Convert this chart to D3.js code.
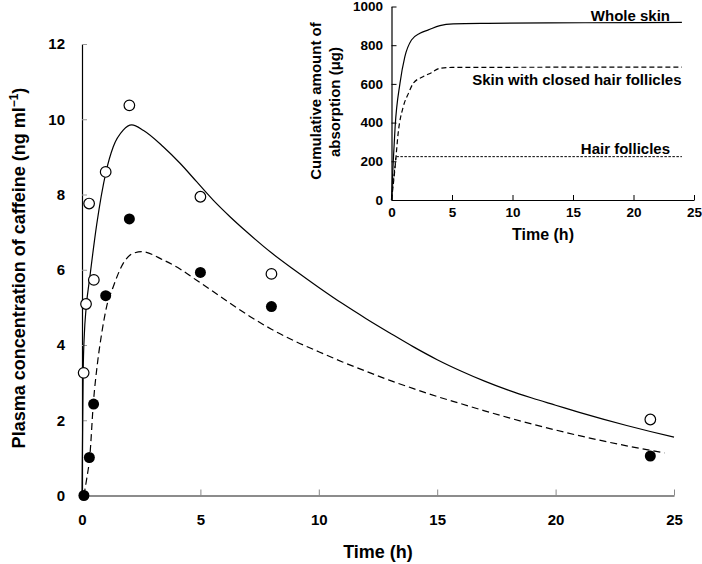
<!DOCTYPE html>
<html><head><meta charset="utf-8">
<script src="https://cdn.jsdelivr.net/npm/d3@7"></script>
<style>
body{margin:0;background:#fff;}
svg{display:block;}
text{font-family:"Liberation Sans",Arial,sans-serif;font-weight:bold;fill:#000;}
</style></head>
<body>
<svg id="c" width="702" height="564"></svg>
<script>
// ---- Main panel data (plasma caffeine, ng/ml) ----
const mainXTicks = [0, 5, 10, 15, 20, 25];
const mainYTicks = [0, 2, 4, 6, 8, 10, 12];
// observed: whole skin (open circles)
const wholeTimes = [0.07, 0.17, 0.3, 0.5, 1, 2, 5, 8, 24];
const wholeConc  = [3.26, 5.09, 7.76, 5.73, 8.6, 10.37, 7.94, 5.89, 2.02];
// observed: closed hair follicles (filled circles)
const closedTimes = [0.08, 0.31, 0.49, 1, 2, 5, 8, 24];
const closedConc  = [0, 1.01, 2.43, 5.31, 7.35, 5.93, 5.02, 1.05];
// fitted curve: whole skin (solid)
const fitWholeT = [0, 0.05, 0.1, 0.17, 0.34, 0.62, 1.01, 1.32, 1.74, 2.1, 2.6, 3.43, 4.14, 4.84, 5.54, 6.25, 6.95, 8, 9, 10, 11, 12, 13, 14, 15, 16, 17, 18, 19, 20, 21, 22, 23, 24, 25];
const fitWholeC = [0, 3.3, 4.3, 4.95, 5.85, 7.2, 8.59, 9.27, 9.71, 9.85, 9.7, 9.27, 8.83, 8.34, 7.85, 7.41, 7.01, 6.45, 5.98, 5.53, 5.10, 4.70, 4.32, 3.95, 3.61, 3.31, 3.04, 2.80, 2.59, 2.40, 2.21, 2.03, 1.86, 1.70, 1.55];
// fitted curve: closed follicles (dashed)
const fitClosedT = [0.08, 0.2, 0.33, 0.48, 0.65, 0.83, 1.04, 1.32, 1.74, 2.17, 2.52, 3.43, 4.14, 4.84, 5.54, 6.25, 7.09, 8, 9, 10, 11, 12, 13, 14, 15, 16, 17, 18, 19, 20, 21, 22, 23, 24, 24.6];
const fitClosedC = [0, 0.45, 1.04, 2.46, 3.5, 4.3, 5.02, 5.55, 6.17, 6.44, 6.48, 6.26, 6.02, 5.72, 5.42, 5.11, 4.76, 4.42, 4.10, 3.82, 3.55, 3.30, 3.06, 2.84, 2.63, 2.44, 2.25, 2.07, 1.90, 1.74, 1.59, 1.45, 1.32, 1.20, 1.13];

// ---- Inset data (cumulative absorption, µg) ----
const insetXTicks = [0, 5, 10, 15, 20, 25];
const insetYTicks = [0, 200, 400, 600, 800, 1000];
const skinT = [0, 0.15, 0.3, 0.7, 1.1, 1.65, 2.35, 3.05, 4.0, 5.1, 8, 16, 24];
const skinA = [0, 207, 379, 603, 740, 827, 862, 879, 901, 910, 913, 916, 918];
const closedSkinT = [0, 0.3, 0.55, 0.97, 1.4, 1.8, 2.6, 3.3, 4.0, 5, 24];
const closedSkinA = [0, 172, 345, 482, 551, 603, 637, 658, 681, 685, 687];
const follT = [0, 0.37, 24];
const follA = [0, 224, 224];
const insetLabels = ["Whole skin", "Skin with closed hair follicles", "Hair follicles"];

const svg = d3.select("#c");
const zip = (a, b) => a.map((v, i) => [v, b[i]]);

// ---------- main chart ----------
const x = d3.scaleLinear().domain([0, 25]).range([82, 674]);
const y = d3.scaleLinear().domain([0, 12]).range([495.5, 44]);

const gx = svg.append("g").attr("transform", `translate(0,${y(0)})`)
  .call(d3.axisBottom(x).tickValues(mainXTicks).tickSizeInner(-6).tickSizeOuter(0).tickPadding(19));
gx.select(".domain").attr("stroke", "#666").attr("stroke-width", 1.6);
gx.selectAll(".tick line").attr("stroke", "#888");
gx.selectAll("text").attr("font-size", 15).attr("font-family", null).attr("fill", "#000");

const gy = svg.append("g").attr("transform", `translate(${x(0)},0)`)
  .call(d3.axisLeft(y).tickValues(mainYTicks).tickSizeInner(-5).tickSizeOuter(0).tickPadding(17));
gy.select(".domain").attr("stroke", "#000").attr("stroke-width", 1.2);
gy.selectAll(".tick line").attr("stroke", "#999");
gy.selectAll("text").attr("font-size", 15).attr("font-family", null).attr("fill", "#000");

const lineMain = d3.line().x(d => x(d[0])).y(d => y(d[1])).curve(d3.curveMonotoneX);
svg.append("path").datum(zip(fitWholeT, fitWholeC)).attr("d", lineMain)
  .attr("fill", "none").attr("stroke", "#000").attr("stroke-width", 1.2);
svg.append("path").datum(zip(fitClosedT, fitClosedC)).attr("d", lineMain)
  .attr("fill", "none").attr("stroke", "#000").attr("stroke-width", 1.2).attr("stroke-dasharray", "7,4");

svg.append("g").selectAll("circle").data(zip(closedTimes, closedConc)).join("circle")
  .attr("cx", d => x(d[0])).attr("cy", d => y(d[1])).attr("r", 5.5).attr("fill", "#000");
svg.append("g").selectAll("circle").data(zip(wholeTimes, wholeConc)).join("circle")
  .attr("cx", d => x(d[0])).attr("cy", d => y(d[1])).attr("r", 5.3)
  .attr("fill", "#fff").attr("stroke", "#000").attr("stroke-width", 1.2);

svg.append("text").attr("x", 378).attr("y", 558).attr("text-anchor", "middle")
  .attr("font-size", 18).text("Time (h)");
const yl = svg.append("text").attr("transform", "translate(25,268) rotate(-90)")
  .attr("text-anchor", "middle").attr("font-size", 18);
yl.append("tspan").text("Plasma concentration of caffeine (ng ml");
yl.append("tspan").attr("font-size", 12).attr("dy", -7).text("−1");
yl.append("tspan").attr("dy", 7).text(")");

// ---------- inset ----------
const ix = d3.scaleLinear().domain([0, 25]).range([391.5, 694]);
const iy = d3.scaleLinear().domain([0, 1000]).range([200, 6.5]);

const igx = svg.append("g").attr("transform", `translate(0,${iy(0)})`)
  .call(d3.axisBottom(ix).tickValues(insetXTicks).tickSizeInner(-5).tickSizeOuter(0).tickPadding(7.5));
const igy = svg.append("g").attr("transform", `translate(${ix(0)},0)`)
  .call(d3.axisLeft(iy).tickValues(insetYTicks).tickFormat(d3.format("d")).tickSizeInner(-5).tickSizeOuter(0).tickPadding(8.5));
[igx, igy].forEach(g => {
  g.select(".domain").attr("stroke", "#000").attr("stroke-width", 1.2);
  g.selectAll(".tick line").attr("stroke", "#000");
  g.selectAll("text").attr("font-size", 13.5).attr("font-family", null).attr("fill", "#000");
});

const lineIn = d3.line().x(d => ix(d[0])).y(d => iy(d[1])).curve(d3.curveMonotoneX);
svg.append("path").datum(zip(skinT, skinA)).attr("d", lineIn)
  .attr("fill", "none").attr("stroke", "#000").attr("stroke-width", 1.2);
svg.append("path").datum(zip(closedSkinT, closedSkinA)).attr("d", lineIn)
  .attr("fill", "none").attr("stroke", "#000").attr("stroke-width", 1.2).attr("stroke-dasharray", "5,3");
svg.append("path").datum(zip(follT, follA)).attr("d", d3.line().x(d => ix(d[0])).y(d => iy(d[1])))
  .attr("fill", "none").attr("stroke", "#000").attr("stroke-width", 1).attr("stroke-dasharray", "2.5,1.5");

const labPos = [[670, 20.5], [681.5, 85], [670, 153.5]];
svg.append("g").selectAll("text").data(insetLabels).join("text")
  .attr("x", (d, i) => labPos[i][0]).attr("y", (d, i) => labPos[i][1])
  .attr("text-anchor", "end").attr("font-size", 15).text(d => d);

svg.append("text").attr("x", 543).attr("y", 240).attr("text-anchor", "middle")
  .attr("font-size", 16).text("Time (h)");
svg.append("text").attr("transform", "translate(321,101) rotate(-90)")
  .attr("text-anchor", "middle").attr("font-size", 15).text("Cumulative amount of");
svg.append("text").attr("transform", "translate(340,102) rotate(-90)")
  .attr("text-anchor", "middle").attr("font-size", 15).text("absorption (μg)");
</script>
</body></html>
